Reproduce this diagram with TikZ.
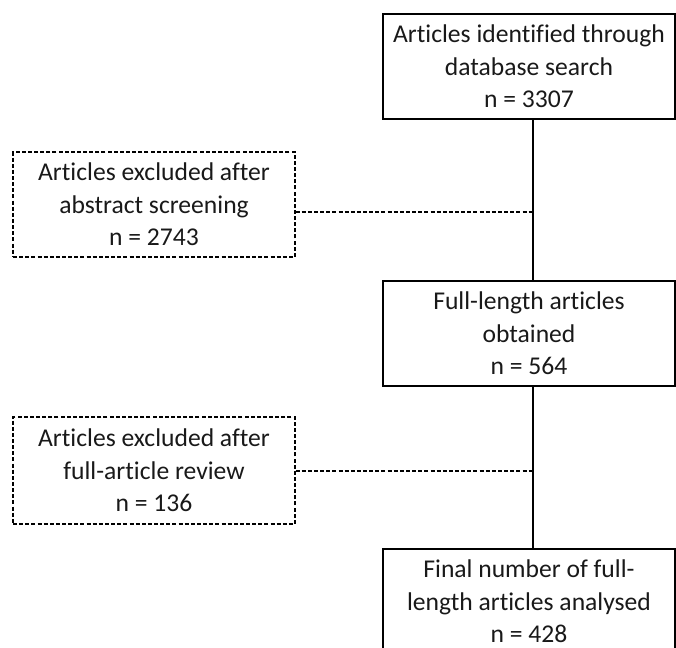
\documentclass[tikz,border=0pt]{standalone}
\usepackage{fontspec}
\setmainfont{Carlito}[Ligatures={NoCommon}]
\begin{document}
\begin{tikzpicture}[x=0.75pt,y=-0.75pt,
  solidbox/.style={draw=black,line width=1.1pt,rectangle,align=center,inner sep=0pt,
    font=\fontsize{19.2}{24.5}\selectfont,text=black!90},
  dashbox/.style={solidbox,line width=0.9pt,dash pattern=on 3pt off 1.6pt},
  link/.style={draw=black,line width=1.1pt},
  dlink/.style={draw=black,line width=0.9pt,dash pattern=on 3pt off 1.6pt}]
\useasboundingbox (0,0) rectangle (676,648);
\begin{scope}
\clip (0,0) rectangle (676,648);
\node[solidbox,minimum width=292*0.75pt,minimum height=105*0.75pt] (b1) at (529,66.5)
  {Articles identified through\\database search\\n = 3307};
\node[solidbox,minimum width=292*0.75pt,minimum height=105*0.75pt] (b2) at (529,333.5)
  {Full-length articles\\obtained\\n = 564};
\node[solidbox,minimum width=292*0.75pt,minimum height=105*0.75pt] (b3) at (529,601.5)
  {Final number of full-\\length articles analysed\\n = 428};
\node[dashbox,minimum width=282*0.75pt,minimum height=105*0.75pt] (e1) at (154,204.5)
  {Articles excluded after\\abstract screening\\n = 2743};
\node[dashbox,minimum width=282*0.75pt,minimum height=107*0.75pt] (e2) at (154,470.5)
  {Articles excluded after\\full-article review\\n = 136};
\coordinate (t1) at (533,119);
\coordinate (t2) at (533,281);
\coordinate (t3) at (533,386);
\coordinate (t4) at (533,549);
\coordinate (j1) at (533,212);
\coordinate (j2) at (533,471);
\draw[link] (t1) -- (t2);
\draw[link] (t3) -- (t4);
\draw[dlink] (e1.east |- j1) -- (j1);
\draw[dlink] (e2.east |- j2) -- (j2);
\end{scope}
\end{tikzpicture}
\end{document}
